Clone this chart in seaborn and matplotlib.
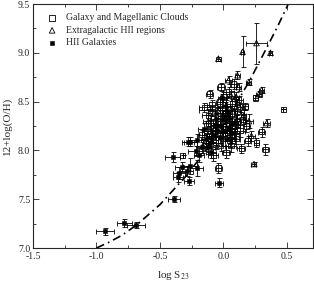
import numpy as np
import pandas as pd
import matplotlib
matplotlib.use("Agg")
import matplotlib.pyplot as plt
from matplotlib.ticker import MultipleLocator, FormatStrFormatter
import seaborn as sns

sns.set_style("ticks")
plt.rcParams['font.family'] = ['Liberation Serif', 'DejaVu Serif']
plt.rcParams['mathtext.fontset'] = 'stix'

# Galaxy and Magellanic Clouds (open squares)
gal_x = [0.47, -0.05, 0.33, -0.04, -0.32, 0.26, -0.17, 0.25, 0.30, -0.09,
         -0.12, -0.10, -0.07, -0.03, -0.01, 0.01, 0.03, 0.05, 0.07, 0.09,
         0.11, 0.13, 0.15, -0.14, -0.06, 0.00, 0.06, 0.10, -0.11, 0.04,
         0.12, 0.17, -0.02, 0.08, 0.19, -0.08, 0.02, 0.14, -0.15, 0.18,
         -0.04, 0.02, 0.07, -0.09, 0.11, 0.05, -0.13, 0.00]
gal_y = [8.42, 8.41, 8.01, 7.82, 7.95, 8.08, 8.16, 8.54, 8.19, 8.47,
         8.36, 8.28, 8.20, 8.50, 8.30, 8.44, 8.18, 8.35, 8.48, 8.26,
         8.40, 8.20, 8.32, 8.05, 8.08, 8.12, 8.05, 8.12, 8.58, 8.60,
         8.52, 8.45, 8.65, 8.68, 8.10, 7.95, 7.98, 8.02, 8.44, 8.25,
         8.24, 8.38, 8.22, 8.14, 8.30, 8.10, 8.20, 8.55]
gal_xerr = [0.00, 0.14, 0.03, 0.03, 0.00, 0.02, 0.03, 0.02, 0.03, 0.04,
            0.05, 0.04, 0.05, 0.03, 0.04, 0.05, 0.04, 0.05, 0.04, 0.04,
            0.03, 0.04, 0.03, 0.04, 0.05, 0.04, 0.04, 0.03, 0.03, 0.04,
            0.03, 0.02, 0.03, 0.03, 0.03, 0.04, 0.03, 0.03, 0.04, 0.03,
            0.04, 0.03, 0.04, 0.05, 0.03, 0.04, 0.04, 0.03]
gal_yerr = [0.00, 0.03, 0.06, 0.05, 0.00, 0.05, 0.05, 0.03, 0.05, 0.05,
            0.06, 0.07, 0.06, 0.05, 0.08, 0.06, 0.07, 0.06, 0.05, 0.06,
            0.07, 0.06, 0.05, 0.06, 0.07, 0.08, 0.07, 0.05, 0.04, 0.05,
            0.04, 0.04, 0.04, 0.05, 0.05, 0.06, 0.06, 0.05, 0.05, 0.06,
            0.06, 0.07, 0.05, 0.06, 0.06, 0.07, 0.05, 0.05]

# Extragalactic HII regions (open triangles)
ehii_x = [0.26, 0.15, 0.37, -0.04, 0.11, 0.20, 0.30, 0.12, 0.24, 0.34,
          0.28, 0.06, 0.02, -0.03, 0.08, 0.04, -0.06, 0.10, 0.00, -0.09,
          0.13, 0.06, -0.02, 0.16, 0.10, 0.20, 0.22, -0.12, 0.04, -0.10]
ehii_y = [9.10, 9.01, 9.00, 8.94, 8.77, 8.70, 8.62, 8.65, 7.86, 8.28,
          8.58, 8.56, 8.46, 8.38, 8.40, 8.28, 8.26, 8.30, 8.20, 8.40,
          8.44, 8.14, 8.05, 8.36, 8.55, 8.30, 8.15, 8.30, 8.72, 8.15]
ehii_xerr = [0.08, 0.01, 0.01, 0.02, 0.02, 0.02, 0.02, 0.02, 0.02, 0.03,
             0.02, 0.03, 0.03, 0.04, 0.03, 0.04, 0.04, 0.03, 0.04, 0.03,
             0.03, 0.03, 0.03, 0.02, 0.02, 0.03, 0.03, 0.04, 0.03, 0.04]
ehii_yerr = [0.21, 0.16, 0.02, 0.02, 0.04, 0.03, 0.03, 0.04, 0.02, 0.04,
             0.03, 0.05, 0.06, 0.05, 0.06, 0.06, 0.07, 0.06, 0.07, 0.05,
             0.05, 0.06, 0.06, 0.05, 0.05, 0.07, 0.05, 0.06, 0.04, 0.06]

# HII Galaxies (filled squares)
hiig_x = [-0.93, -0.78, -0.69, -0.39, -0.40, -0.35, -0.33, -0.36, -0.29, -0.27,
          -0.26, -0.21, -0.22, -0.26, -0.21, -0.17, -0.12, -0.10, -0.035, -0.14,
          -0.08, -0.05, -0.02, 0.02, 0.00, 0.04, 0.06, -0.06, 0.03, -0.01,
          0.08, -0.15, -0.28, -0.03, 0.01, -0.07, 0.05, -0.11, -0.19, 0.03]
hiig_y = [7.17, 7.26, 7.24, 7.50, 7.93, 7.77, 7.83, 7.73, 7.79, 7.69,
          7.84, 7.82, 7.99, 8.09, 8.11, 8.03, 8.03, 7.98, 7.67, 8.12,
          8.15, 8.20, 8.25, 8.30, 8.35, 8.22, 8.28, 8.32, 8.40, 8.54,
          8.18, 8.22, 8.09, 8.14, 8.20, 8.26, 8.12, 8.08, 7.95, 8.33]
hiig_xerr = [0.07, 0.06, 0.07, 0.05, 0.06, 0.05, 0.05, 0.04, 0.05, 0.04,
             0.06, 0.05, 0.06, 0.05, 0.05, 0.04, 0.05, 0.04, 0.03, 0.04,
             0.05, 0.04, 0.04, 0.05, 0.04, 0.05, 0.04, 0.05, 0.04, 0.03,
             0.04, 0.05, 0.05, 0.04, 0.05, 0.04, 0.04, 0.05, 0.04, 0.04]
hiig_yerr = [0.04, 0.04, 0.03, 0.03, 0.05, 0.06, 0.05, 0.05, 0.05, 0.04,
             0.08, 0.08, 0.05, 0.05, 0.06, 0.06, 0.07, 0.06, 0.05, 0.05,
             0.06, 0.05, 0.06, 0.06, 0.05, 0.06, 0.05, 0.05, 0.06, 0.04,
             0.05, 0.06, 0.05, 0.06, 0.05, 0.06, 0.05, 0.06, 0.07, 0.05]

# calibration curve
fit_x = [-1.0, -0.9, -0.8, -0.68, -0.5, -0.3, -0.185, 0.0, 0.1, 0.2, 0.34, 0.43, 0.51]
fit_y = [7.00, 7.06, 7.13, 7.24, 7.445, 7.73, 7.92, 8.27, 8.48, 8.70, 9.05, 9.28, 9.50]

labels = ["Galaxy and Magellanic Clouds", "Extragalactic HII regions", "HII Galaxies"]

fig = plt.figure(figsize=(3.14, 2.84), dpi=100)
ax = fig.add_axes([33/314, 36/284, 280/314, 244/284])

ebkw = dict(fmt='none', ecolor='black', elinewidth=0.6, capsize=1.8, capthick=0.6, zorder=1)
ax.errorbar(gal_x, gal_y, xerr=gal_xerr, yerr=gal_yerr, **ebkw)
ax.errorbar(ehii_x, ehii_y, xerr=ehii_xerr, yerr=ehii_yerr, **ebkw)
ax.errorbar(hiig_x, hiig_y, xerr=hiig_xerr, yerr=hiig_yerr, **ebkw)

sns.lineplot(x=fit_x, y=fit_y, ax=ax, color='black', lw=1.2, sort=False,
             linestyle=(0, (5, 2.5, 1, 2.5)), zorder=2)

df_gal = pd.DataFrame({'x': gal_x, 'y': gal_y})
df_ehii = pd.DataFrame({'x': ehii_x, 'y': ehii_y})
df_hiig = pd.DataFrame({'x': hiig_x, 'y': hiig_y})

sns.scatterplot(data=df_gal, x='x', y='y', ax=ax, marker='s', s=14,
                facecolor='none', edgecolor='black', linewidth=0.6,
                label=labels[0], zorder=3)
sns.scatterplot(data=df_ehii, x='x', y='y', ax=ax, marker='^', s=16,
                facecolor='none', edgecolor='black', linewidth=0.6,
                label=labels[1], zorder=3)
sns.scatterplot(data=df_hiig, x='x', y='y', ax=ax, marker='s', s=12,
                color='black', edgecolor='black', linewidth=0.4,
                label=labels[2], zorder=4)

ax.set_xlim(-1.5, 0.705)
ax.set_ylim(7.0, 9.5)
ax.xaxis.set_major_locator(MultipleLocator(0.5))
ax.xaxis.set_minor_locator(MultipleLocator(0.25))
ax.yaxis.set_major_locator(MultipleLocator(0.5))
ax.yaxis.set_minor_locator(MultipleLocator(0.25))
ax.xaxis.set_major_formatter(FormatStrFormatter('%.1f'))
ax.yaxis.set_major_formatter(FormatStrFormatter('%.1f'))
ax.tick_params(which='both', direction='in', top=True, right=True, labelsize=7, width=0.6)
ax.tick_params(axis='x', pad=3)
ax.tick_params(axis='y', pad=2)
ax.tick_params(which='major', length=4)
ax.tick_params(which='minor', length=2.5)
for sp in ax.spines.values():
    sp.set_linewidth(0.8)

ax.set_xlabel(r"log S$_{23}$", fontsize=8, labelpad=6)
ax.set_ylabel("12+log(O/H)", fontsize=8, labelpad=4)

ax.legend(loc='upper left', bbox_to_anchor=(0.03, 0.985), frameon=False, fontsize=7,
          handletextpad=0.9, handlelength=1.0, labelspacing=0.35, borderaxespad=0.2)

fig.savefig("out.png", dpi=100)
